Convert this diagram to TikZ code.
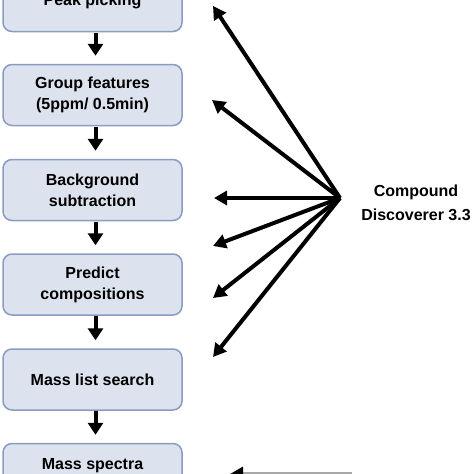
\documentclass[tikz,border=0pt]{standalone}
\usepackage{fontspec}
\setmainfont{Liberation Sans}
\usetikzlibrary{arrows.meta}
\definecolor{boxfill}{HTML}{DDE3EE}
\definecolor{boxline}{HTML}{8A9CC2}
\definecolor{shaftgray}{HTML}{A8A8A8}
\begin{document}
\begin{tikzpicture}[x=1pt,y=-1pt,
  stepbox/.style={draw=boxline, line width=1.5pt, fill=boxfill, rounded corners=9pt,
    minimum width=179pt, minimum height=61pt, align=center, inner sep=0pt,
    font=\fontsize{16}{21}\selectfont\bfseries},
  flowarrow/.style={line width=4pt, -{Triangle[width=15pt,length=12pt]}},
  fanarrow/.style={line width=4pt, -{Triangle[width=14pt,length=13pt]}},
  lbl/.style={align=center, font=\fontsize{16}{24}\selectfont\bfseries}]
\useasboundingbox (0,0) rectangle (474,474);
\clip (0,0) rectangle (474,474);
\node[stepbox] (b1) at (92.5,1) {Peak picking};
\node[stepbox] (b2) at (92.5,95) {Group features\\(5ppm/ 0.5min)};
\node[stepbox] (b3) at (92.5,190) {Background\\subtraction};
\node[stepbox] (b4) at (92.5,284.5) {Predict\\compositions};
\node[stepbox] (b5) at (92.5,379.5) {Mass list search};
\node[stepbox] (b6) at (92.5,474) {Mass spectra\\ };
\foreach \a/\b in {b1/b2,b2/b3,b3/b4,b4/b5,b5/b6}
  \draw[flowarrow] ([xshift=3pt,yshift=-0.5pt]\a.south) -- ([xshift=3pt,yshift=8pt]\b.north);
\coordinate (hub) at (340,198);
\node[lbl] (cd) at (416,203) {Compound\\Discoverer 3.3};
\coordinate (t1) at (213,6);
\coordinate (t2) at (212,100);
\coordinate (t3) at (214,198);
\coordinate (t4) at (213,246);
\coordinate (t5) at (213,298);
\coordinate (t6) at (213,357);
\foreach \t in {t1,t2,t3,t4,t5,t6}
  \draw[fanarrow] (hub) -- (\t);
\coordinate (ms) at (352,474);
\coordinate (mt) at (230,474);
\draw[line width=4pt, draw=shaftgray, -{Triangle[width=14pt,length=13pt,color=black]}] (ms) -- (mt);
\end{tikzpicture}
\end{document}
